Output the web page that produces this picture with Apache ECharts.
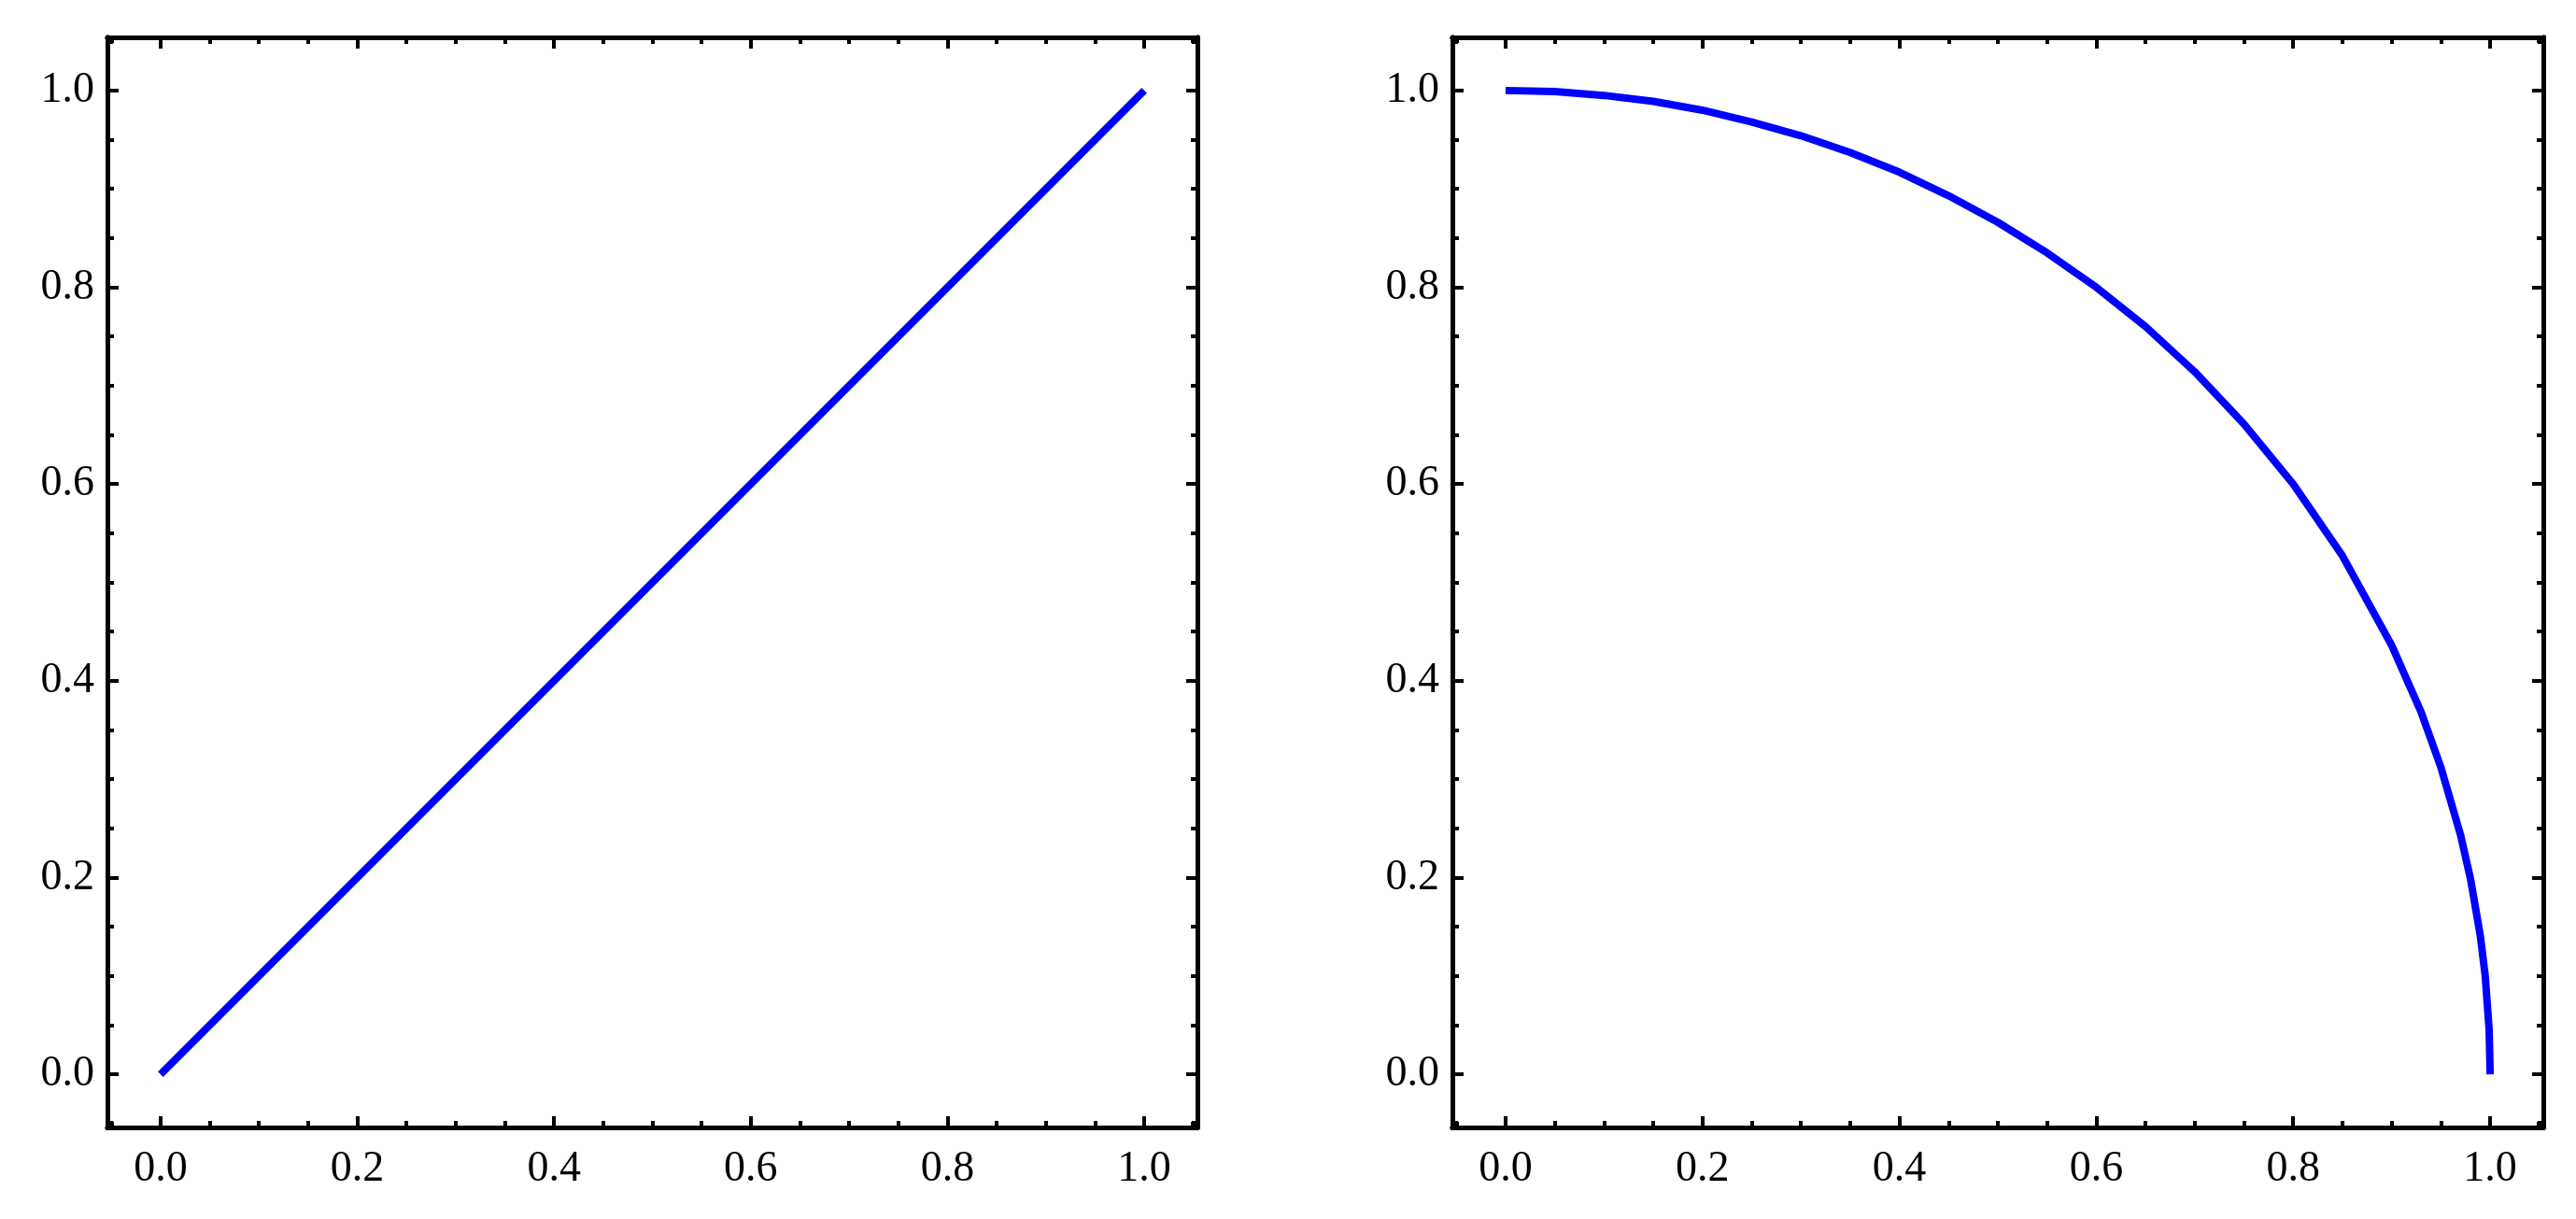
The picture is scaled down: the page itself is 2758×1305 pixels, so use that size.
<!DOCTYPE html>
<html><head><meta charset="utf-8">
<script src="https://cdn.jsdelivr.net/npm/echarts@6/dist/echarts.min.js"></script>
<style>html,body{margin:0;padding:0;background:#fff}#c{width:2758px;height:1305px}</style>
</head><body><div id="c"></div>
<script>
const majorTicks = [0, 0.2, 0.4, 0.6, 0.8, 1.0];
const minorTicks = [-0.05,0.05,0.1,0.15,0.25,0.3,0.35,0.45,0.5,0.55,0.65,0.7,0.75,0.85,0.9,0.95,1.05];
const lineX = [0, 1];
const lineY = [0, 1];
const arcX = [0,0.05,0.1,0.15,0.2,0.25,0.3,0.35,0.4,0.45,0.5,0.55,0.6,0.65,0.7,0.75,0.8,0.85,0.9,0.93,0.95,0.97,0.98,0.99,0.995,0.999,1.0];
const arcY = [1,0.999,0.995,0.989,0.980,0.968,0.954,0.937,0.917,0.893,0.866,0.835,0.8,0.760,0.714,0.661,0.6,0.527,0.436,0.368,0.312,0.243,0.199,0.141,0.100,0.045,0];

const MIN = -0.054, MAX = 1.054;
const font = {fontFamily:'Liberation Serif', fontSize:46, color:'#000'};
function axes(kind, gi){
  const pos = kind==='x' ? ['bottom','top'] : ['left','right'];
  const out = [];
  pos.forEach((p,pi)=>{
    [true,false].forEach(isMajor=>{
      out.push({
        type:'value', gridIndex:gi, position:p, min:MIN, max:MAX,
        axisLine:{show:true, onZero:false, lineStyle:{color:'#000', width:5}},
        axisTick:{show:true, inside:true, length:isMajor?12:7, customValues:isMajor?majorTicks:minorTicks, lineStyle:{color:'#000', width:4}},
        axisLabel:{show:isMajor && pi===0, customValues:majorTicks, formatter:v=>v.toFixed(1), margin:kind==='x'?22:14, ...font},
        splitLine:{show:false}
      });
    });
  });
  return out;
}
const xAxis = [...axes('x',0), ...axes('x',1)];
const yAxis = [...axes('y',0), ...axes('y',1)];
const chart = echarts.init(document.getElementById('c'));
chart.setOption({
  animation:false,
  backgroundColor:'#fff',
  grid:[{left:115, right:1476, top:40, bottom:98},{left:1555, right:35, top:40, bottom:98}],
  xAxis, yAxis,
  series:[
    {type:'line', xAxisIndex:0, yAxisIndex:0, data:lineX.map((x,i)=>[x,lineY[i]]), showSymbol:false, lineStyle:{color:'#0000ff', width:8, cap:'butt'}},
    {type:'line', xAxisIndex:4, yAxisIndex:4, data:arcX.map((x,i)=>[x,arcY[i]]), showSymbol:false, lineStyle:{color:'#0000ff', width:8, cap:'butt', join:'round'}}
  ]
});
</script></body></html>
